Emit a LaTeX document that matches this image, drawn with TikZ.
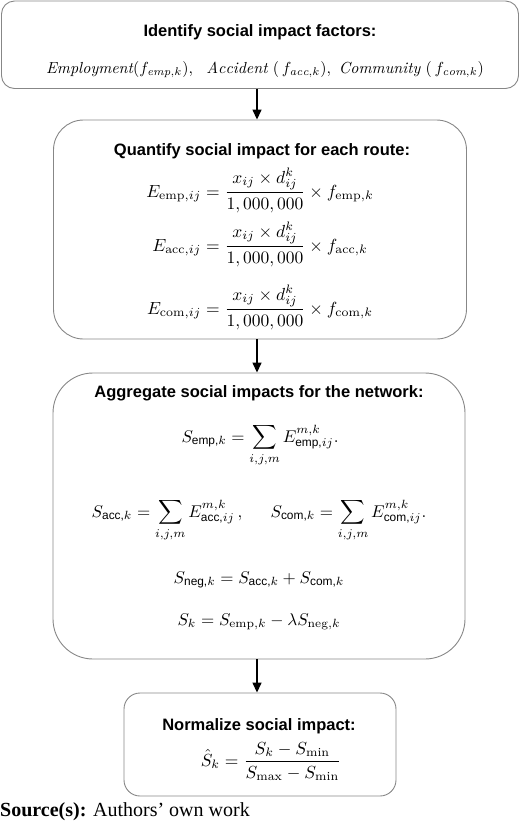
\documentclass[tikz,border=0pt]{standalone}
\usepackage{amsmath}
\usepackage{graphicx}
\usepackage{fontspec}
\newfontfamily\arialf{Liberation Sans}
\newfontfamily\timesf{Liberation Serif}
\usetikzlibrary{arrows.meta}
\definecolor{boxgray}{RGB}{135,135,135}
\tikzset{
  box/.style={draw=boxgray, line width=0.9pt, inner sep=0pt},
  arr/.style={line width=1.4pt, -{Triangle[width=9pt,length=10pt]}},
  ttl/.style={font=\fontsize{16.5}{20}\arialf\bfseries, anchor=base, inner sep=0pt},
  eqn/.style={font=\normalsize, scale=1.75, transform shape, anchor=base, inner sep=0pt},
  eqs/.style={font=\normalsize, scale=1.7, transform shape, anchor=base, inner sep=0pt},
  eqf/.style={font=\normalsize, scale=1.6, transform shape, anchor=base, inner sep=0pt},
}
\newcommand{\asub}[1]{\text{\arialf #1}}
\begin{document}
\begin{tikzpicture}[x=1pt,y=-1pt]
\useasboundingbox (0,0) rectangle (520,823);
% boxes
\node[box, rounded corners=13pt, minimum width=517pt, minimum height=87.5pt] (b1) at (260,44.75) {};
\node[box, rounded corners=30pt, minimum width=413pt, minimum height=219pt] (b2) at (260,229.5) {};
\node[box, rounded corners=40pt, minimum width=412pt, minimum height=286pt] (b3) at (259,516) {};
\node[box, rounded corners=16pt, minimum width=272pt, minimum height=103pt] (b4) at (260,744.5) {};
% arrows
\draw[arr] ([xshift=-3pt]b1.south) -- ([xshift=-3pt]b1.south |- b2.north);
\draw[arr] ([xshift=-3pt]b2.south) -- ([xshift=-3pt]b2.south |- b3.north);
\draw[arr] ([xshift=-2pt]b3.south) -- ([xshift=-2pt]b3.south |- b4.north);
% box 1
\node[ttl] (t1) at (260,36) {Identify social impact factors:};
\node[eqf] (f1) at (265,73)
  {$\mathit{Employment}(f_{\mathit{emp},k}),\ \ \mathit{Accident}\ (\,f_{\mathit{acc},k}),\ \mathit{Community}\ (\,f_{\mathit{com},k})$};
% box 2
\node[ttl] (t2) at (262,155) {Quantify social impact for each route:};
\node[eqn] (e1) at (260,197) {$E_{\mathrm{emp},ij} = \dfrac{x_{ij}\times d_{ij}^{k}}{1,000,000}\times f_{\mathrm{emp},k}$};
\node[eqn] (e2) at (260,251) {$E_{\mathrm{acc},ij} = \dfrac{x_{ij}\times d_{ij}^{k}}{1,000,000}\times f_{\mathrm{acc},k}$};
\node[eqn] (e3) at (260,314) {$E_{\mathrm{com},ij} = \dfrac{x_{ij}\times d_{ij}^{k}}{1,000,000}\times f_{\mathrm{com},k}$};
% box 3
\node[ttl] (t3) at (259,397) {Aggregate social impacts for the network:};
\node[eqs] (e4) at (260,442) {$\displaystyle S_{\asub{emp,}k} = \sum_{i,j,m} E^{m,k}_{\asub{emp,}ij}.$};
\node[eqs] (e5) at (259,517) {$\displaystyle S_{\asub{acc,}k} = \sum_{i,j,m} E^{m,k}_{\asub{acc,}ij}\,,\hspace{1.5em} S_{\asub{com,}k} = \sum_{i,j,m} E^{m,k}_{\asub{com,}ij}.$};
\node[eqs] (e6) at (259,583) {$S_{\asub{neg,}k} = S_{\asub{acc,}k} + S_{\asub{com,}k}$};
\node[eqs] (e7) at (259,625) {$S_{k} = S_{\mathrm{emp},k} - \lambda S_{\mathrm{neg},k}$};
% box 4
\node[ttl] (t4) at (259,730) {Normalize social impact:};
\node[eqn] (e8) at (271,766) {$\hat S_k = \dfrac{S_k - S_{\min}}{S_{\max}-S_{\min}}$};
% source
\node[anchor=base west, inner sep=0pt, font=\fontsize{20}{24}\timesf] (src) at (0,816) {\textbf{Source(s):} Authors’ own work};
\end{tikzpicture}
\end{document}
